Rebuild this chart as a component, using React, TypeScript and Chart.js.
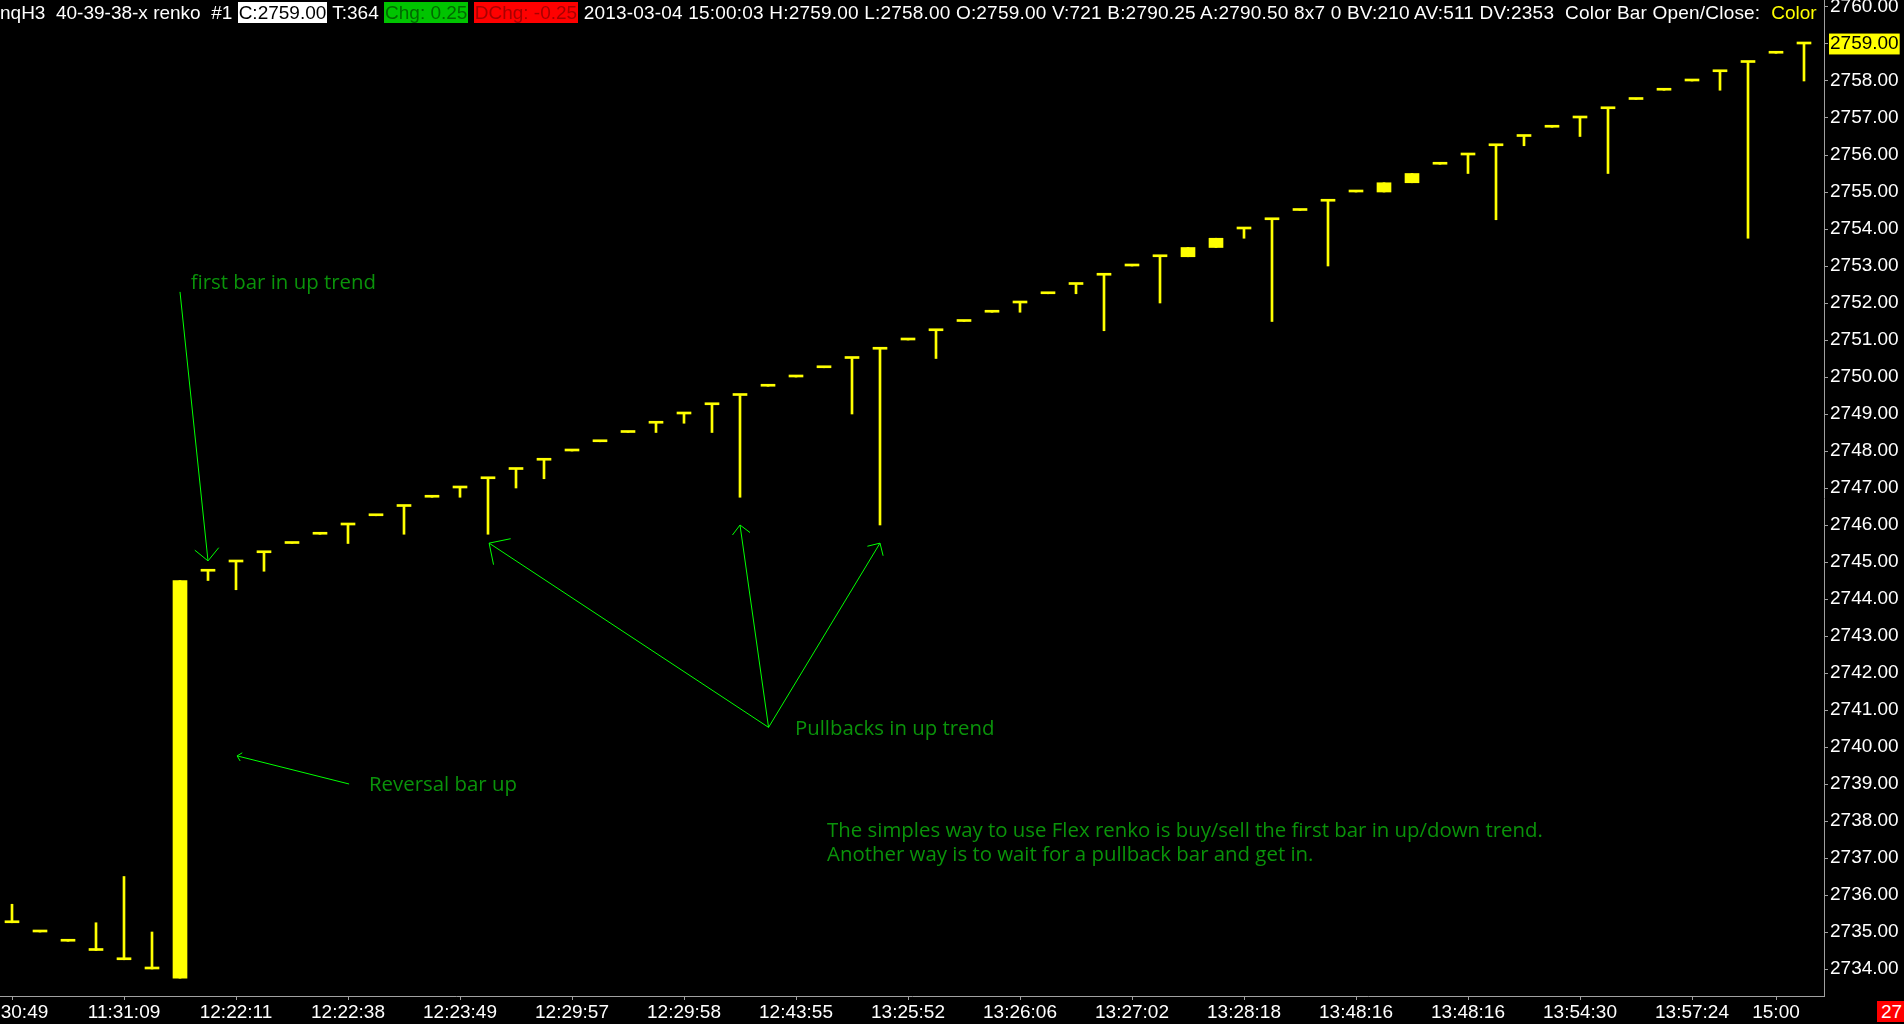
import React, { useEffect, useRef } from 'react';
import { Chart, registerables } from 'chart.js';

Chart.register(...registerables);

// ---- data ----
const opens = [
  2735.25, 2735.0, 2734.75, 2734.5, 2734.25, 2734.0, 2733.75, 2744.75, 2745.0, 2745.25,
  2745.5, 2745.75, 2746.0, 2746.25, 2746.5, 2746.75, 2747.0, 2747.25, 2747.5, 2747.75,
  2748.0, 2748.25, 2748.5, 2748.75, 2749.0, 2749.25, 2749.5, 2749.75, 2750.0, 2750.25,
  2750.5, 2750.75, 2751.0, 2751.25, 2751.5, 2751.75, 2752.0, 2752.25, 2752.5, 2752.75,
  2753.0, 2753.25, 2753.25, 2753.5, 2754.0, 2754.25, 2754.5, 2754.75, 2755.0, 2755.0,
  2755.25, 2755.75, 2756.0, 2756.25, 2756.5, 2756.75, 2757.0, 2757.25, 2757.5, 2757.75,
  2758.0, 2758.25, 2758.5, 2758.75, 2759.0,
];
const closes = [
  2735.25, 2735.0, 2734.75, 2734.5, 2734.25, 2734.0, 2744.5, 2744.75, 2745.0, 2745.25,
  2745.5, 2745.75, 2746.0, 2746.25, 2746.5, 2746.75, 2747.0, 2747.25, 2747.5, 2747.75,
  2748.0, 2748.25, 2748.5, 2748.75, 2749.0, 2749.25, 2749.5, 2749.75, 2750.0, 2750.25,
  2750.5, 2750.75, 2751.0, 2751.25, 2751.5, 2751.75, 2752.0, 2752.25, 2752.5, 2752.75,
  2753.0, 2753.25, 2753.5, 2753.75, 2754.0, 2754.25, 2754.5, 2754.75, 2755.0, 2755.25,
  2755.5, 2755.75, 2756.0, 2756.25, 2756.5, 2756.75, 2757.0, 2757.25, 2757.5, 2757.75,
  2758.0, 2758.25, 2758.5, 2758.75, 2759.0,
];
const highs = [
  2735.75, 2735.0, 2734.75, 2735.25, 2736.5, 2735.0, 2744.5, 2744.75, 2745.0, 2745.25,
  2745.5, 2745.75, 2746.0, 2746.25, 2746.5, 2746.75, 2747.0, 2747.25, 2747.5, 2747.75,
  2748.0, 2748.25, 2748.5, 2748.75, 2749.0, 2749.25, 2749.5, 2749.75, 2750.0, 2750.25,
  2750.5, 2750.75, 2751.0, 2751.25, 2751.5, 2751.75, 2752.0, 2752.25, 2752.5, 2752.75,
  2753.0, 2753.25, 2753.5, 2753.75, 2754.0, 2754.25, 2754.5, 2754.75, 2755.0, 2755.25,
  2755.5, 2755.75, 2756.0, 2756.25, 2756.5, 2756.75, 2757.0, 2757.25, 2757.5, 2757.75,
  2758.0, 2758.25, 2758.5, 2758.75, 2759.0,
];
const lows = [
  2735.25, 2735.0, 2734.75, 2734.5, 2734.25, 2734.0, 2733.75, 2744.5, 2744.25, 2744.75,
  2745.5, 2745.75, 2745.5, 2746.25, 2745.75, 2746.75, 2746.75, 2745.75, 2747.0, 2747.25,
  2748.0, 2748.25, 2748.5, 2748.5, 2748.75, 2748.5, 2746.75, 2749.75, 2750.0, 2750.25,
  2749.0, 2746.0, 2751.0, 2750.5, 2751.5, 2751.75, 2751.75, 2752.25, 2752.25, 2751.25,
  2753.0, 2752.0, 2753.25, 2753.5, 2753.75, 2751.5, 2754.5, 2753.0, 2755.0, 2755.0,
  2755.25, 2755.75, 2755.5, 2754.25, 2756.25, 2756.75, 2756.5, 2755.5, 2757.5, 2757.75,
  2758.0, 2757.75, 2753.75, 2758.75, 2758.0,
];

const xTickIndex = [0, 4, 8, 12, 16, 20, 24, 28, 32, 36, 40, 44, 48, 52, 56, 60, 63];
const xTickLabels = [
  '11:30:49', '11:31:09', '12:22:11', '12:22:38', '12:23:49', '12:29:57', '12:29:58', '12:43:55',
  '13:25:52', '13:26:06', '13:27:02', '13:28:18', '13:48:16', '13:48:16', '13:54:30', '13:57:24', '15:00',
];
const yTicks = [
  2734, 2735, 2736, 2737, 2738, 2739, 2740, 2741, 2742, 2743, 2744, 2745, 2746, 2747,
  2748, 2749, 2750, 2751, 2752, 2753, 2754, 2755, 2756, 2757, 2758, 2759, 2760,
];
const lastPrice = 2759;

// annotations anchored in data space: [bar index, price]
const arrows = [
  { from: [6.0, 2752.3], to: [7.0, 2745.03], head: 17 },
  { from: [12.04, 2739.0], to: [8.04, 2739.76], head: 6 },
  { from: [27.02, 2740.53], to: [17.04, 2745.51], head: 22 },
  { from: [27.02, 2740.53], to: [26.0, 2746.0], head: 12.5 },
  { from: [27.02, 2740.53], to: [31.0, 2745.51], head: 13 },
];
const notes = [
  { text: 'first bar in up trend', at: [6.38, 2752.38] },
  { text: 'Reversal bar up', at: [12.75, 2738.81] },
  { text: 'Pullbacks in up trend', at: [27.96, 2740.32] },
  { text: 'The simples way to use Flex renko is buy/sell the first bar in up/down trend.', at: [29.11, 2737.57] },
  { text: 'Another way is to wait for a pullback bar and get in.', at: [29.11, 2736.93] },
];

const YELLOW = '#ffff00';
const AXIS_GRAY = '#a0a0a0';
const NOTE_GREEN = '#0a930a';
const ARROW_GREEN = '#00ff00';
const UI_FONT = '"Liberation Sans", Arial, sans-serif';
const NOTE_FONT = '20.4px "Open Sans", sans-serif';

const notesPlugin = {
  id: 'notes',
  afterDraw(chart: any) {
    const { ctx } = chart;
    const xs = chart.scales.x;
    const ys = chart.scales.y;
    ctx.save();
    ctx.strokeStyle = ARROW_GREEN;
    ctx.lineWidth = 1;
    for (const a of arrows) {
      const x1 = xs.getPixelForValue(a.from[0]);
      const y1 = ys.getPixelForValue(a.from[1]);
      const x2 = xs.getPixelForValue(a.to[0]);
      const y2 = ys.getPixelForValue(a.to[1]);
      const ang = Math.atan2(y1 - y2, x1 - x2);
      ctx.beginPath();
      ctx.moveTo(x1, y1);
      ctx.lineTo(x2, y2);
      for (const d of [-Math.PI / 4, Math.PI / 4]) {
        ctx.moveTo(x2, y2);
        ctx.lineTo(x2 + a.head * Math.cos(ang + d), y2 + a.head * Math.sin(ang + d));
      }
      ctx.stroke();
    }
    ctx.fillStyle = NOTE_GREEN;
    ctx.font = NOTE_FONT;
    ctx.textBaseline = 'alphabetic';
    ctx.textAlign = 'left';
    for (const n of notes) {
      ctx.fillText(n.text, xs.getPixelForValue(n.at[0]), ys.getPixelForValue(n.at[1]));
    }
    ctx.restore();
  },
};

export default function App() {
  const ref = useRef<HTMLCanvasElement | null>(null);

  useEffect(() => {
    document.body.style.margin = '0';
    document.body.style.background = '#000';
    const canvas = ref.current;
    if (!canvas) return;
    const chart = new Chart(canvas, {
      type: 'bar',
      data: {
        datasets: [
          {
            label: 'range',
            data: closes.map((_, i) => ({ x: i, y: [lows[i], highs[i]] })) as any,
            backgroundColor: YELLOW,
            borderWidth: 0,
            barThickness: 2,
            grouped: false,
            minBarLength: 0,
          },
          {
            label: 'open/close',
            data: closes.map((c, i) => ({ x: i, y: [opens[i], c] })) as any,
            backgroundColor: YELLOW,
            borderWidth: 0,
            barThickness: 14,
            grouped: false,
            minBarLength: 2,
          },
        ],
      },
      options: {
        animation: false,
        responsive: false,
        maintainAspectRatio: false,
        layout: { padding: 0, autoPadding: false },
        plugins: {
          legend: { display: false },
          tooltip: { enabled: false },
          title: { display: false },
        },
        scales: {
          x: {
            type: 'linear',
            min: -12 / 28,
            max: (1824 - 12) / 28,
            offset: false,
            bounds: 'data',
            grid: { display: true, drawOnChartArea: false, drawTicks: true, tickLength: 4, color: AXIS_GRAY, offset: false },
            border: { display: true, color: AXIS_GRAY, width: 1 },
            ticks: {
              color: '#ffffff',
              font: { family: UI_FONT, size: 19, lineHeight: 1.2 },
              padding: 1,
              autoSkip: false,
              maxRotation: 0,
              minRotation: 0,
              callback: (_v: any, i: number) => xTickLabels[i],
            },
            afterBuildTicks: (s: any) => {
              s.ticks = xTickIndex.map((v) => ({ value: v }));
            },
            afterFit: (s: any) => {
              s.height = 28;
              s.paddingLeft = 0;
              s.paddingRight = 0;
            },
          },
          y: {
            type: 'linear',
            position: 'right',
            min: 2734 - 27 / 37,
            max: 2734 - 27 / 37 + 996 / 37,
            bounds: 'data',
            grid: { display: true, drawOnChartArea: false, drawTicks: true, tickLength: 4, color: AXIS_GRAY },
            border: { display: true, color: AXIS_GRAY, width: 1 },
            ticks: {
              font: { family: UI_FONT, size: 19, lineHeight: 1.1 },
              padding: 2,
              autoSkip: false,
              color: (c: any) => (c.tick && c.tick.value === lastPrice ? '#000000' : '#ffffff'),
              showLabelBackdrop: true,
              backdropColor: (c: any) => (c.tick && c.tick.value === lastPrice ? YELLOW : 'rgba(0,0,0,0)'),
              backdropPadding: { left: 1, right: 1, top: 0, bottom: 0 },
              callback: (v: any) => Number(v).toFixed(2),
            },
            afterBuildTicks: (s: any) => {
              s.ticks = yTicks.map((v) => ({ value: v }));
            },
            afterFit: (s: any) => {
              s.width = 80;
              s.paddingTop = 0;
              s.paddingBottom = 0;
            },
          },
        },
      } as any,
      plugins: [notesPlugin],
    });
    return () => chart.destroy();
  }, []);

  const box = { padding: '0 1px' };
  return (
    <div style={{ position: 'relative', width: 1904, height: 1024, overflow: 'hidden', background: '#000' }}>
      <canvas ref={ref} width={1904} height={1024} style={{ display: 'block', width: 1904, height: 1024 }} />
      <div
        style={{
          position: 'absolute',
          left: 0,
          top: 2,
          font: `19px ${UI_FONT}`,
          lineHeight: '21px',
          color: '#ffffff',
          whiteSpace: 'pre',
        }}
      >
        {'nqH3  40-39-38-x renko  #1 '}
        <span style={{ ...box, background: '#ffffff', color: '#000000' }}>C:2759.00</span>
        {' T:364 '}
        <span style={{ ...box, background: '#00c400', color: '#006a00' }}>Chg: 0.25</span>{' '}
        <span style={{ ...box, background: '#ff0000', color: '#a80000' }}>DChg: -0.25</span>
        <span style={{ letterSpacing: '0.195px' }}>
          {' 2013-03-04 15:00:03 H:2759.00 L:2758.00 O:2759.00 V:721 B:2790.25 A:2790.50 8x7 0 BV:210 AV:511 DV:2353  Color Bar Open/Close:  '}
        </span>
        <span style={{ color: YELLOW }}>Color</span>
      </div>
      <div
        style={{
          position: 'absolute',
          left: 1877,
          top: 1001,
          font: `19px ${UI_FONT}`,
          lineHeight: '21px',
          color: '#ffffff',
          background: '#ff0000',
          padding: '0 20px 0 4px',
          whiteSpace: 'pre',
        }}
      >
        27
      </div>
    </div>
  );
}
